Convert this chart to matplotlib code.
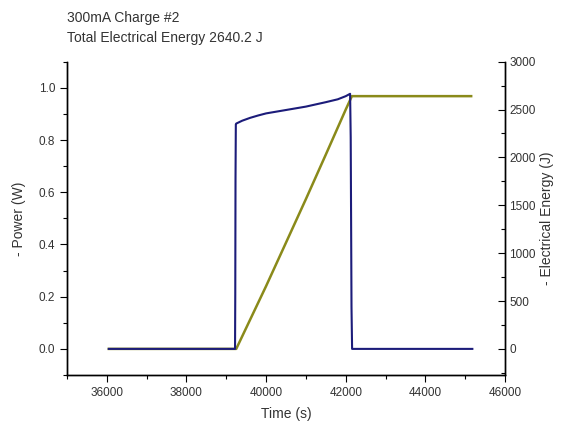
import matplotlib
matplotlib.use("Agg")
import matplotlib.pyplot as plt
from matplotlib.ticker import MultipleLocator

plt.rcParams['font.family'] = ['Liberation Sans', 'DejaVu Sans']

title_lines = ["300mA Charge #2", "Total Electrical Energy 2640.2 J"]
x_label = "Time (s)"
y_left_label = "- Power (W)"
y_right_label = "- Electrical Energy (J)"

power_t = [36050, 39220, 39226, 39232, 39240, 39250, 39400, 39600, 39800, 40000,
           40500, 41000, 41500, 41800, 42000, 42110, 42125, 42135, 42145, 42160, 45180]
power_w = [0.0, 0.0, 0.21, 0.65, 0.86, 0.863, 0.874, 0.885, 0.894, 0.902,
           0.915, 0.928, 0.945, 0.956, 0.968, 0.977, 0.81, 0.49, 0.16, 0.0, 0.0]

energy_t = [36050, 39250, 40000, 40500, 41000, 41500, 42000, 42155, 45150]
energy_j = [0.0, 0.0, 656, 1110, 1565, 2030, 2500, 2640.2, 2640.2]

blue = "#1c1c7a"
olive = "#8a8a1a"
txt = "#333333"

fig = plt.figure(figsize=(5.64, 4.26), dpi=100)
ax = fig.add_axes([67/564, 1 - 375/426, (505-67)/564, (375-61.7)/426])
ax2 = ax.twinx()

ax.plot(power_t, power_w, color=blue, lw=1.5, zorder=3)
ax2.plot(energy_t, energy_j, color=olive, lw=1.8, zorder=2)
ax.set_zorder(ax2.get_zorder() + 1)
ax.patch.set_visible(False)

ax.set_xlim(35000, 46000)
ax.set_ylim(-0.1, 1.1)
ax2.set_ylim(-3000 * 0.1 / 1.1, 3000)

ax.xaxis.set_major_locator(MultipleLocator(2000))
ax.xaxis.set_minor_locator(MultipleLocator(1000))
ax.yaxis.set_major_locator(MultipleLocator(0.2))
ax.yaxis.set_minor_locator(MultipleLocator(0.1))
ax.yaxis.set_major_formatter(plt.FuncFormatter(lambda v, p: f"{v:.1f}"))
ax2.yaxis.set_major_locator(MultipleLocator(500))
ax2.yaxis.set_minor_locator(MultipleLocator(250))
ax.set_xticks([36000, 38000, 40000, 42000, 44000, 46000])

for a in (ax, ax2):
    a.spines['top'].set_visible(False)
    for s in a.spines.values():
        s.set_color('black')
        s.set_linewidth(1.0)

ax.tick_params(axis='both', which='major', direction='out', length=5, width=0.8,
               labelsize=8.5, labelcolor=txt)
ax.tick_params(axis='both', which='minor', direction='out', length=3, width=0.8)
ax2.tick_params(axis='y', which='major', direction='in', length=5, width=0.8,
                labelsize=8.5, labelcolor=txt, pad=3)
ax2.tick_params(axis='y', which='minor', direction='in', length=3, width=0.8)

ax.set_xlabel(x_label, fontsize=10, color=txt, labelpad=6)
ax.set_ylabel(y_left_label, fontsize=10, color=txt, labelpad=9)
ax2.set_ylabel(y_right_label, fontsize=10, color=txt, labelpad=3)

fig.text(67/564, 1 - 22/426, title_lines[0], fontsize=10, color=txt, ha='left', va='baseline')
fig.text(67/564, 1 - 42/426, title_lines[1], fontsize=10, color=txt, ha='left', va='baseline')

fig.savefig("out.png", dpi=100, facecolor='white')
